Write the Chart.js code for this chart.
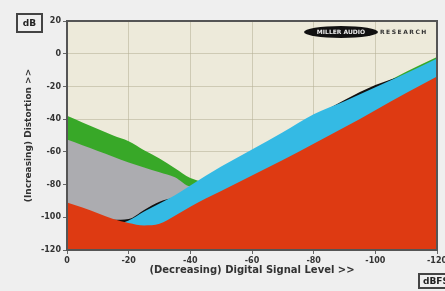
<!DOCTYPE html>
<html>
<head>
<meta charset="utf-8">
<script src="https://cdn.jsdelivr.net/npm/chart.js@4/dist/chart.umd.min.js"></script>
<style>
  html, body { margin: 0; padding: 0; background: #efefef; }
  #wrap { width: 445px; height: 291px; }
</style>
</head>
<body>
<div id="wrap"><canvas id="chart" width="445" height="291"></canvas></div>
<script>
// Digital signal level (dBFS), decreasing left to right
const levels = [0, -5, -10, -15, -20, -25, -30, -35, -40, -50, -60, -70, -80, -90, -100, -110, -120];

// Distortion curves (dB)
const redCurve   = [-91, -94, -97.5, -101, -103.5, -105, -104, -99, -93.5, -84, -74.5, -65, -55, -45, -34.5, -24, -14];
const blueCurve  = [-110, -108, -106, -104.5, -102, -96.5, -91.5, -86.5, -80.5, -69, -58.5, -48, -37, -29, -20.5, -12, -3];
const blackCurve = [-96, -98, -100, -101.5, -101, -95.5, -90.5, -87.5, -82, -70.5, -60, -49.5, -38.5, -28.3, -19.2, -12.5, -4.5];
const grayCurve  = [-52.5, -56, -59.5, -63, -66.5, -69.5, -72.5, -75.5, -81, -71, -60.5, -50, -39, -31, -22.5, -14, -5];
const greenCurve = [-38, -42, -46, -50, -53.5, -59, -64, -70, -76, -80, -61, -50, -39, -31, -21, -11, -2];

const yTicks = [20, 0, -20, -40, -60, -80, -100, -120];

function toPoints(values) {
    return levels.map((lv, i) => ({ x: lv, y: values[i] }));
}

function area(label, values, color) {
    return {
        label: label,
        data: toPoints(values),
        backgroundColor: color,
        borderColor: color,
        borderWidth: 0,
        pointRadius: 0,
        cubicInterpolationMode: 'monotone',
        fill: 'start'
    };
}

// Cream plot background, frame and the small labels around the plot
const decorations = {
    id: 'decorations',
    beforeDraw(chart) {
        const { ctx, chartArea: a } = chart;
        ctx.save();
        ctx.fillStyle = '#efefef';
        ctx.fillRect(0, 0, chart.width, chart.height);
        ctx.fillStyle = 'rgb(237,234,218)';
        ctx.fillRect(a.left, a.top, a.right - a.left, a.bottom - a.top);
        ctx.restore();
    },
    afterDraw(chart) {
        const { ctx, chartArea: a } = chart;
        ctx.save();
        ctx.strokeStyle = '#555';
        ctx.lineWidth = 2;
        ctx.strokeRect(a.left, a.top, a.right - a.left, a.bottom - a.top);

        // dB unit box
        ctx.strokeStyle = '#444';
        ctx.strokeRect(17, 14, 25, 18);
        ctx.fillStyle = '#222';
        ctx.font = 'bold 9px "DejaVu Sans"';
        ctx.textAlign = 'center';
        ctx.textBaseline = 'middle';
        ctx.fillText('dB', 29.5, 23.5);

        // dBFS unit box (cut by the edge)
        ctx.strokeRect(419, 274, 40, 14);
        ctx.textAlign = 'left';
        ctx.fillText('dBFS', 423, 281.5);

        // logo
        ctx.fillStyle = '#111';
        ctx.beginPath();
        ctx.ellipse(341, 32, 37, 6, 0, 0, Math.PI * 2);
        ctx.fill();
        ctx.fillStyle = '#eee';
        ctx.font = 'bold 6px "DejaVu Sans"';
        ctx.textAlign = 'center';
        ctx.fillText('MILLER AUDIO', 341, 32.5);
        ctx.fillStyle = '#333';
        ctx.textAlign = 'left';
        ctx.letterSpacing = '1.5px';
        ctx.fillText('RESEARCH', 380, 32.5);
        ctx.restore();
    }
};

const tickFont = { family: 'DejaVu Sans', size: 8, weight: 'bold' };

new Chart(document.getElementById('chart'), {
    type: 'line',
    data: {
        datasets: [
            area('Red', redCurve, 'rgb(222,58,18)'),
            area('Blue', blueCurve, 'rgb(52,186,228)'),
            area('Black', blackCurve, '#111'),
            area('Gray', grayCurve, 'rgb(172,172,176)'),
            area('Green', greenCurve, 'rgb(56,168,40)')
        ]
    },
    options: {
        responsive: false,
        animation: false,
        layout: { padding: { top: 21, right: 8, left: 0, bottom: 0 } },
        plugins: {
            legend: { display: false },
            tooltip: { enabled: false }
        },
        scales: {
            x: {
                type: 'linear',
                reverse: true,
                min: -120,
                max: 0,
                ticks: { stepSize: 20, color: '#333', font: tickFont, padding: 2, maxRotation: 0 },
                grid: { color: 'rgba(180,175,150,0.55)', tickLength: 4, tickColor: '#666' },
                border: { color: '#555', width: 2 },
                title: {
                    display: true,
                    text: '(Decreasing) Digital Signal Level >>',
                    color: '#333',
                    font: { family: 'DejaVu Sans', size: 10, weight: 'bold' },
                    padding: { top: 0, bottom: 15 }
                },
                afterFit(scale) {
                    scale.height = 41;
                    scale.paddingLeft = 0;
                    scale.paddingRight = 0;
                }
            },
            y: {
                min: -120,
                max: 20,
                afterBuildTicks(scale) {
                    scale.ticks = yTicks.map(v => ({ value: v }));
                },
                ticks: { color: '#333', font: tickFont, padding: 2 },
                grid: { color: 'rgba(180,175,150,0.55)', tickLength: 4, tickColor: '#666' },
                border: { color: '#555', width: 2 },
                title: {
                    display: true,
                    text: '(Increasing) Distortion >>',
                    color: '#333',
                    font: { family: 'DejaVu Sans', size: 9, weight: 'bold' },
                    padding: { top: 23, bottom: 0 }
                },
                afterFit(scale) {
                    scale.width = 67;
                    scale.paddingTop = 0;
                    scale.paddingBottom = 0;
                }
            }
        }
    },
    plugins: [decorations]
});
</script>
</body>
</html>
